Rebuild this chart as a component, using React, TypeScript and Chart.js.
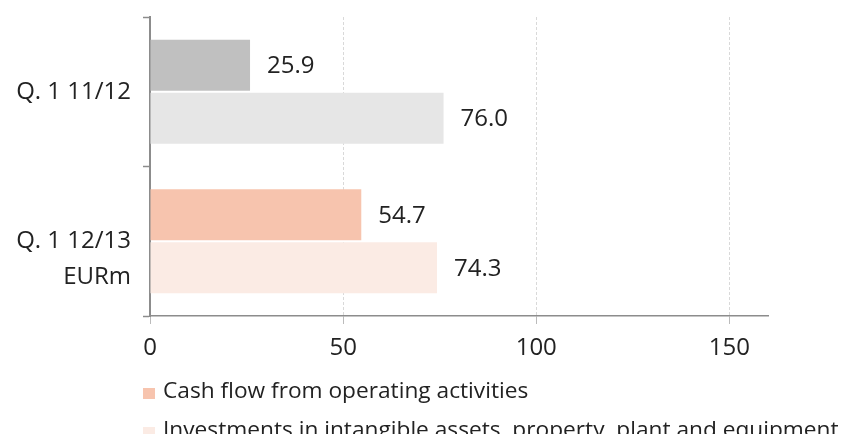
import React, { useEffect, useRef } from "react";
import { Chart, registerables } from "chart.js";

Chart.register(...registerables);

const categories: (string | string[])[] = ["Q. 1 11/12", ["", "Q. 1 12/13", "EURm"]];
const cashFlow = [25.9, 54.7];
const investments = [76.0, 74.3];
const cashFlowColors = ["#c0c0c0", "#f7c4ae"];
const investmentColors = ["#e6e6e6", "#fbebe4"];
const legendLabels = [
  "Cash flow from operating activities",
  "Investments in intangible assets, property, plant and equipment",
];
const legendColors = ["#f7c4ae", "#fbebe4"];
const xTicks = [0, 50, 100, 150];

const FONT = "'Open Sans', sans-serif";
const TEXT = "#222222";

const valueLabels = {
  id: "valueLabels",
  afterDatasetsDraw(chart: any) {
    const ctx = chart.ctx;
    ctx.save();
    ctx.font = `24px ${FONT}`;
    ctx.fillStyle = TEXT;
    ctx.textAlign = "left";
    ctx.textBaseline = "middle";
    chart.data.datasets.forEach((ds: any, di: number) => {
      const meta = chart.getDatasetMeta(di);
      meta.data.forEach((el: any, i: number) => {
        ctx.fillText(Number(ds.data[i]).toFixed(1), el.x + 17, el.y + 1);
      });
    });
    ctx.restore();
  },
};

export default function App() {
  const ref = useRef<HTMLCanvasElement>(null);
  useEffect(() => {
    document.documentElement.style.overflow = "hidden";
    if (!ref.current) return;
    const chart = new Chart(ref.current, {
      type: "bar",
      data: {
        labels: categories,
        datasets: [
          { label: legendLabels[0], data: cashFlow, backgroundColor: cashFlowColors },
          { label: legendLabels[1], data: investments, backgroundColor: investmentColors },
        ],
      },
      options: {
        indexAxis: "y",
        animation: false,
        responsive: false,
        maintainAspectRatio: false,
        categoryPercentage: 0.71,
        barPercentage: 0.96,
        layout: { padding: { left: 0, top: 9, right: 76, bottom: 68 } },
        plugins: { legend: { display: false }, tooltip: { enabled: false } },
        scales: {
          x: {
            min: 0,
            max: 160,
            afterBuildTicks: (scale: any) => {
              scale.ticks = xTicks.map((v) => ({ value: v }));
            },
            afterFit: (scale: any) => {
              scale.height = 50;
              scale.paddingLeft = 0;
              scale.paddingRight = 0;
            },
            border: { display: true, color: "#8c8c8c", width: 1.5, dash: [3, 2] },
            grid: {
              color: "#d9d9d9",
              lineWidth: 1,
              drawTicks: true,
              tickLength: 8,
              tickColor: "#bbbbbb",
              tickBorderDash: [],
              tickWidth: 1,
            },
            ticks: {
              font: { family: FONT, size: 24 },
              color: TEXT,
              padding: 10,
            },
          },
          y: {
            afterFit: (scale: any) => {
              scale.width = 142;
              scale.paddingTop = 0;
              scale.paddingBottom = 0;
            },
            border: { display: true, color: "#8c8c8c", width: 2 },
            grid: {
              drawOnChartArea: false,
              drawTicks: true,
              tickLength: 7,
              tickColor: "#8c8c8c",
              tickWidth: 1.5,
            },
            ticks: {
              font: { family: FONT, size: 24, lineHeight: 1.5 },
              color: TEXT,
              padding: 12,
            },
          },
        },
      },
      plugins: [valueLabels],
    });
    return () => chart.destroy();
  }, []);

  return (
    <div style={{ position: "relative", width: 836, height: 426, fontFamily: FONT }}>
      <canvas ref={ref} width={836} height={426} style={{ display: "block" }} />
      {legendLabels.map((t, i) => (
        <div
          key={i}
          style={{
            position: "absolute",
            left: 135,
            top: i === 0 ? 370 : 409,
            height: 24,
            lineHeight: "24px",
            display: "flex",
            alignItems: "center",
            whiteSpace: "nowrap",
            fontSize: 22.7,
            color: TEXT,
          }}
        >
          <span
            style={{
              display: "inline-block",
              width: 12,
              height: 11,
              background: legendColors[i],
              marginRight: 8,
              position: "relative",
              top: 3,
            }}
          />
          {t}
        </div>
      ))}
    </div>
  );
}
